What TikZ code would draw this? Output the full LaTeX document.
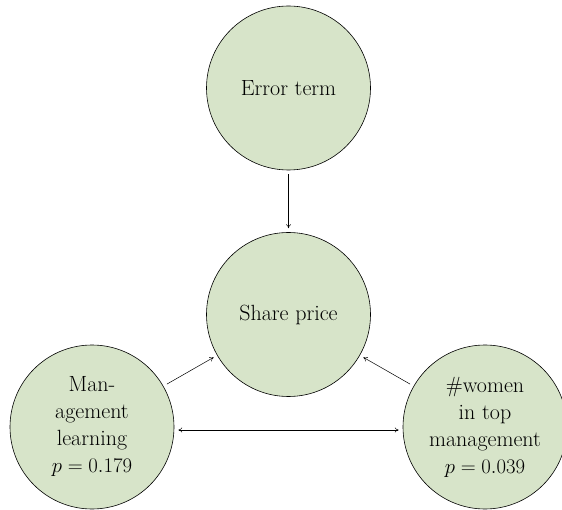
\documentclass[tikz,border=0pt]{standalone}
\usetikzlibrary{arrows.meta}
\definecolor{nodefill}{RGB}{215,228,201}
\begin{document}
\begin{tikzpicture}[x=1pt,y=-1pt,
  var/.style={circle,draw=black,line width=0.6pt,fill=nodefill,minimum size=164pt,inner sep=0pt,
    align=center,font=\fontsize{22}{27}\selectfont},
  conn/.style={line width=0.5pt,-{To[length=4pt,width=5pt]},shorten >=4pt,shorten <=4pt}]
\useasboundingbox (0,0) rectangle (562,510);
\node[var] (err) at (288.5,88) {Error term};
\node[var] (share) at (288.5,314.5) {Share price};
\node[var] (man) at (92,427) {Man-\\agement\\learning\\$p=0.179$};
\node[var] (wom) at (485,427) {\#women\\in top\\management\\$p=0.039$};
\draw[conn] (err) -- (share);
\draw[conn] (man) -- (share);
\draw[conn] (wom) -- (share);
\draw[conn,{To[length=4pt,width=5pt]}-{To[length=4pt,width=5pt]}] (man.east |- 0,430) -- (wom.west |- 0,430);
\end{tikzpicture}
\end{document}
